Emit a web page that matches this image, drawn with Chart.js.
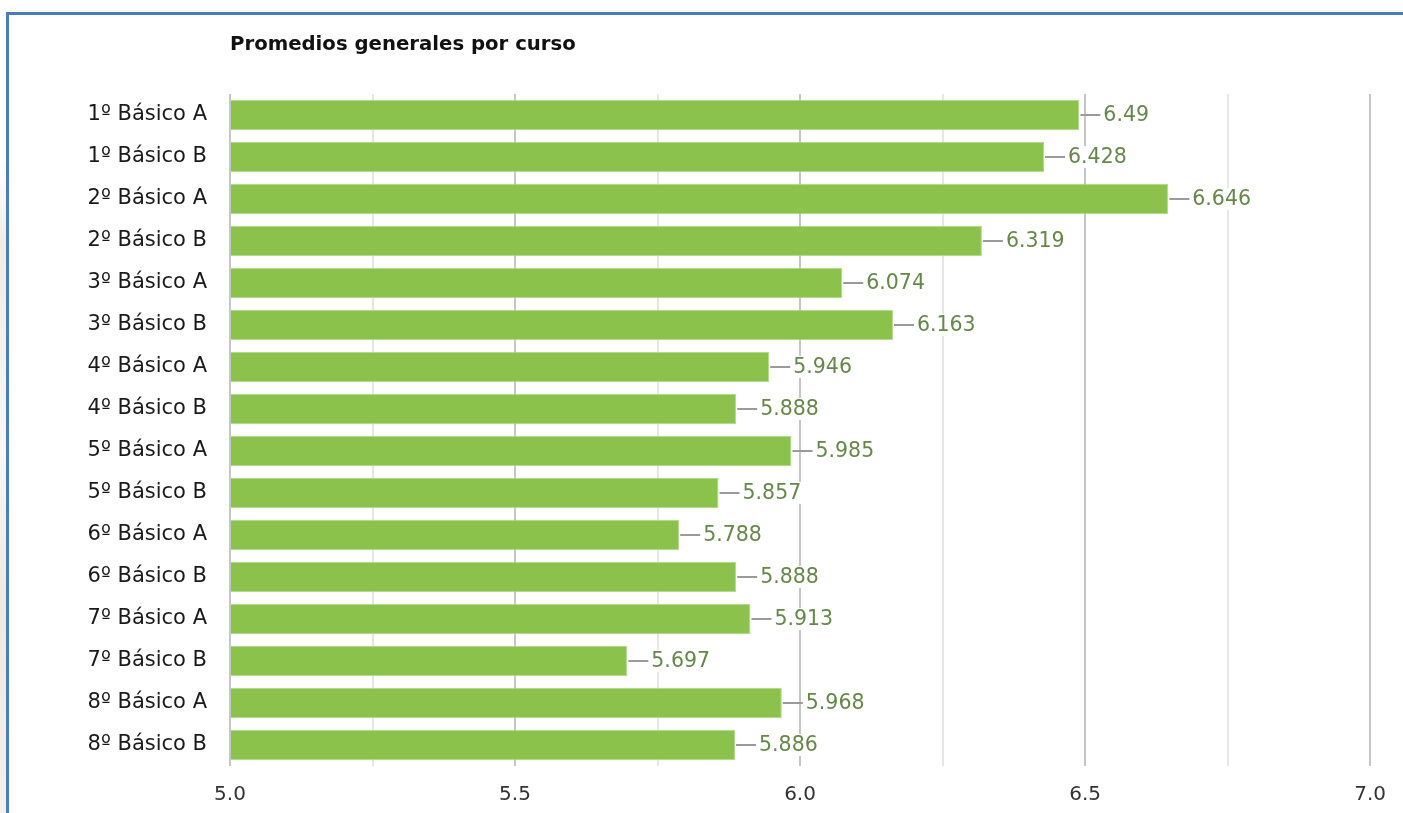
<!DOCTYPE html>
<html>
<head>
<meta charset="utf-8">
<script src="https://cdn.jsdelivr.net/npm/chart.js@4"></script>
<style>
  body { margin: 0; background: #fff; overflow: hidden; }
  #wrap { position: relative; width: 1403px; height: 813px; }
  #side { position: absolute; left: 0; top: 0; width: 6px; height: 813px;
          background: linear-gradient(180deg, #fff 0%, #fff 20%, #f3ebe0 30%, #faf6f0 55%, #f1e8dc 75%, #f6f0e8 100%); }
  #frame { position: absolute; left: 6px; top: 12px; width: 1420px; height: 820px;
           border-left: 3px solid #4a7ebb; border-top: 3px solid #4a7ebb; pointer-events: none; }
</style>
</head>
<body>
<div id="wrap">
  <canvas id="myChart" width="1403" height="813"></canvas>
  <div id="side"></div>
  <div id="frame"></div>
</div>
<script>
let title = 'Promedios generales por curso';
let labels = ['1º Básico A', '1º Básico B', '2º Básico A', '2º Básico B', '3º Básico A', '3º Básico B',
  '4º Básico A', '4º Básico B', '5º Básico A', '5º Básico B', '6º Básico A', '6º Básico B',
  '7º Básico A', '7º Básico B', '8º Básico A', '8º Básico B'];
let values = [6.49, 6.428, 6.646, 6.319, 6.074, 6.163, 5.946, 5.888, 5.985, 5.857, 5.788, 5.888, 5.913, 5.697, 5.968, 5.886];
let axisMin = 5.0;
let axisMax = 7.0;

let isMajor = (v) => Math.abs(v * 2 - Math.round(v * 2)) < 1e-6;

// value labels with a short leader line, like the original
let valueLabels = {
  id: 'valueLabels',
  afterDatasetsDraw(chart) {
    let c = chart.ctx;
    let meta = chart.getDatasetMeta(0);
    c.save();
    c.font = '20.5px "DejaVu Sans"';
    c.textBaseline = 'middle';
    c.textAlign = 'left';
    meta.data.forEach((bar, i) => {
      let x = bar.x;
      let y = bar.y;
      c.strokeStyle = '#9a9a9a';
      c.lineWidth = 2;
      c.beginPath();
      c.moveTo(x + 1, y);
      c.lineTo(x + 21, y);
      c.stroke();
      let txt = String(values[i]);
      let w = c.measureText(txt).width;
      c.fillStyle = '#fff';
      c.fillRect(x + 22, y - 11, w + 4, 22);
      c.fillStyle = '#66874a';
      c.fillText(txt, x + 24, y + 1);
    });
    c.restore();
  },
  afterDraw(chart) {
    let c = chart.ctx;
    c.save();
    c.font = 'bold 19.7px "DejaVu Sans"';
    c.fillStyle = '#111';
    c.textBaseline = 'middle';
    c.fillText(title, 230, 45);
    c.restore();
  }
};

let ctx = document.getElementById('myChart').getContext('2d');
let myChart = new Chart(ctx, {
  type: 'bar',
  data: {
    labels: labels,
    datasets: [{
      data: values,
      base: axisMin,
      backgroundColor: '#8bc24c',
      borderColor: '#b3d88c',
      borderWidth: 1,
      barPercentage: 0.73,
      categoryPercentage: 1.0
    }]
  },
  options: {
    indexAxis: 'y',
    responsive: false,
    animation: false,
    devicePixelRatio: 1,
    layout: { padding: { top: 94, right: 31, left: 0, bottom: 0 } },
    plugins: {
      legend: { display: false },
      tooltip: { enabled: false }
    },
    scales: {
      x: {
        min: axisMin,
        max: axisMax,
        border: { display: false },
        grid: {
          drawTicks: false,
          color: (c) => isMajor(c.tick.value) ? '#c6c6c6' : '#e6e6e6',
          lineWidth: 2
        },
        ticks: {
          stepSize: 0.25,
          padding: 17,
          maxRotation: 0,
          autoSkip: false,
          color: '#333',
          font: { family: 'DejaVu Sans', size: 20 },
          callback: (v) => isMajor(v) ? v.toFixed(1) : ''
        },
        afterFit: (scale) => { scale.height = 47; }
      },
      y: {
        border: { display: false },
        grid: { display: false, drawTicks: false },
        ticks: {
          padding: 23,
          color: '#1a1a1a',
          font: { family: 'DejaVu Sans', size: 21 }
        },
        afterFit: (scale) => { scale.width = 230; }
      }
    }
  },
  plugins: [valueLabels]
});
</script>
</body>
</html>
